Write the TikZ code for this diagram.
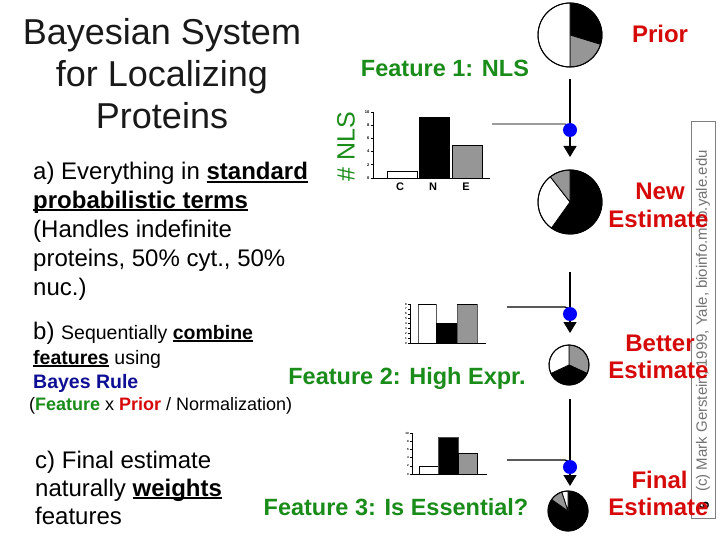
\documentclass[tikz,border=0pt]{standalone}
\usepackage{fontspec}
\setmainfont{Liberation Sans}
\usetikzlibrary{arrows.meta,backgrounds}
\definecolor{fgreen}{RGB}{25,140,25}
\definecolor{fred}{RGB}{215,10,10}
\definecolor{fblue}{RGB}{15,15,150}
\definecolor{dotblue}{RGB}{0,0,255}
\definecolor{bargray}{RGB}{150,150,150}
\newsavebox\myulbox
\newcommand\myul[1]{\sbox\myulbox{#1}\rlap{\rule[-0.13em]{\wd\myulbox}{0.07em}}\usebox\myulbox}
\newcommand\fsz[2]{\fontsize{#1}{#2}\selectfont}
\newcommand\pieslice[5]{\filldraw[fill=#5, draw=black, line width=0.8pt] (#1) -- ++(#3:#2) arc[start angle=#3, end angle=#4, radius=#2] -- cycle;}
\begin{document}
\begin{tikzpicture}[x=1pt,y=-1pt,
  ttl/.style={anchor=base, inner sep=0, text=black!90, font=\fsz{36}{42}},
  txt/.style={anchor=base west, inner sep=0, font=\fsz{24}{28}},
  feat/.style={anchor=base, inner sep=0, text=fgreen, font=\bfseries\fsz{23.5}{28}},
  est/.style={anchor=base, inner sep=0, text=fred, font=\bfseries\fsz{24}{28}},
  bar/.style={draw=black, line width=0.9pt},
  axisline/.style={line width=0.9pt},
  ticklab/.style={anchor=east, inner sep=0.5pt, font=\bfseries\fsz{4}{4}},
  conn/.style={line width=1.3pt},
  bdot/.style={circle, fill=dotblue, inner sep=0, minimum size=14pt},
  arr/.style={conn, -{Triangle[width=13pt,length=11pt]}}
]
\useasboundingbox (0,0) rectangle (720,540);

% ---------- title ----------
\node[ttl] (t1) at (162,45) {Bayesian System};
\node[ttl] (t2) at (162,87) {for Localizing};
\node[ttl] (t3) at (162,129) {Proteins};

% ---------- a) ----------
\node[txt] (a1) at (33,180) {a) Everything in \myul{\textbf{standard}}};
\node[txt] (a2) at (33,208) {\myul{\textbf{probabilistic terms}}};
\node[txt] (a3) at (33,237) {(Handles indefinite};
\node[txt] (a4) at (33,266) {proteins, 50\% cyt., 50\%};
\node[txt] (a5) at (33,295) {nuc.)};

% ---------- b) ----------
\node[txt] (b1) at (33,339) {b) \fsz{19.5}{24}Sequentially \myul{\textbf{combine}}};
\node[txt, font=\fsz{19.5}{24}] (b2) at (33,364) {\myul{\textbf{features}} using};
\node[txt, font=\bfseries\fsz{19.5}{24}, text=fblue] (b3) at (33,388) {Bayes Rule};
\node[txt, font=\fsz{18}{22}] (b4) at (29,410) {(\textcolor{fgreen}{\textbf{Feature}} x \textcolor{fred}{\textbf{Prior}} / Normalization)};

% ---------- c) ----------
\node[txt] (c1) at (35,468) {c) Final estimate};
\node[txt] (c2) at (35,496) {naturally \myul{\textbf{weights}}};
\node[txt] (c3) at (35,524) {features};

% ---------- feature labels ----------
\node[feat] (f1) at (445,77) {Feature 1: NLS};
\node[feat] (f2) at (407,384) {Feature 2: High Expr.};
\node[feat] (f3) at (396,515) {Feature 3: Is Essential?};
\node[rotate=90, text=fgreen, font=\fsz{25}{28}, inner sep=0] (nls) at (346,147) {\# NLS};

% ---------- chart 1 ----------
\draw[bar, fill=white] (387,178) rectangle (417,171);
\draw[bar, fill=black] (419,178) rectangle (449,117);
\draw[bar, fill=bargray] (452,178) rectangle (482,145);
\draw[axisline] (373,112) -- (373,178) -- (490,178);
\foreach \v in {0,2,...,10} {
  \draw[line width=0.6pt] (370.5,{178-6.6*\v}) -- (373,{178-6.6*\v});
  \node[ticklab] at (370,{178-6.6*\v}) {\v};
}
\node[anchor=base, inner sep=0, font=\bfseries\fsz{11}{12}] (lc) at (400,191) {C};
\node[anchor=base, inner sep=0, font=\bfseries\fsz{11}{12}] (ln) at (433,191) {N};
\node[anchor=base, inner sep=0, font=\bfseries\fsz{11}{12}] (le) at (466,191) {E};

% ---------- chart 2 ----------
\draw[bar, draw=black!65, fill=white] (418,343) rectangle (436,304);
\draw[bar, fill=black] (436,343) rectangle (457,323);
\draw[bar, draw=black!65, fill=bargray] (457,343) rectangle (477,304);
\draw[black, line width=0.9pt] (418,304) -- (436,304) (457,304) -- (477,304);
\draw[axisline] (410,304) -- (410,343) -- (486,343);
\foreach \v in {0,...,8} {
  \draw[line width=0.5pt] (408,{343-4.875*\v}) -- (410,{343-4.875*\v});
  \node[ticklab, font=\bfseries\fsz{3}{3}] at (407.5,{343-4.875*\v}) {\v};
}

% ---------- chart 3 ----------
\draw[bar, fill=white] (419,474) rectangle (438,466);
\draw[bar, draw=black!70, fill=black] (438,474) rectangle (458,437);
\draw[bar, fill=bargray] (458,474) rectangle (477,453);
\draw[axisline] (412,433) -- (412,474) -- (487,474);
\foreach \v in {0,2,...,10} {
  \draw[line width=0.5pt] (410,{474-4.1*\v}) -- (412,{474-4.1*\v});
  \node[ticklab, font=\bfseries\fsz{3}{3}] at (409.5,{474-4.1*\v}) {\v};
}

% ---------- pies ----------
\coordinate (p0) at (570,35);
\coordinate (p1) at (570,202);
\coordinate (p2) at (569,365);
\coordinate (p3) at (568,511);
\pieslice{p0}{32pt}{90}{-17}{black}
\pieslice{p0}{32pt}{-17}{-90}{bargray}
\pieslice{p0}{32pt}{-90}{-270}{white}
\draw[line width=1pt] (p0) circle[radius=32pt];
\pieslice{p1}{32pt}{90}{-125.5}{black}
\pieslice{p1}{32pt}{-125.5}{-232}{white}
\pieslice{p1}{32pt}{-232}{-270}{bargray}
\draw[line width=1pt] (p1) circle[radius=32pt];
\pieslice{p2}{20pt}{90}{-25}{bargray}
\pieslice{p2}{20pt}{-25}{-155}{black}
\pieslice{p2}{20pt}{-155}{-270}{white}
\draw[line width=1pt] (p2) circle[radius=20pt];
\pieslice{p3}{20pt}{90}{-215}{black}
\pieslice{p3}{20pt}{-215}{-252}{bargray}
\pieslice{p3}{20pt}{-252}{-270}{white}
\draw[line width=1pt] (p3) circle[radius=20pt];

% ---------- dots and connectors ----------
\node[bdot] (dot1) at (570,130) {};
\node[bdot] (dot2) at (570,314) {};
\node[bdot] (dot3) at (570,467) {};
\coordinate (s1) at (570,79);
\coordinate (s2) at (570,272);
\coordinate (s3) at (570,399);
\coordinate (tip1) at (570,157);
\coordinate (tip2) at (570,333);
\coordinate (tip3) at (570,486);
\coordinate (h1) at (492,124);
\coordinate (h2) at (507,307);
\coordinate (h3) at (507,460);
\begin{pgfonlayer}{background}
\fill[white] (0,0) rectangle (720,540);
\draw[conn] (s1) -- (dot1);
\draw[conn] (s2) -- (dot2);
\draw[conn] (s3) -- (dot3);
\draw[conn, draw=black!60, rounded corners=5pt] (h1) -| (dot1.center);
\draw[conn, rounded corners=5pt] (h2) -| (dot2.center);
\draw[conn, rounded corners=5pt] (h3) -| (dot3.center);
\end{pgfonlayer}
\draw[arr] (dot1) -- (tip1);
\draw[arr] (dot2) -- (tip2);
\draw[arr] (dot3) -- (tip3);

% ---------- copyright box ----------
\draw[black!50, line width=0.8pt] (691,121) rectangle (715,518);
\node[rotate=90, inner sep=0, text=black!55, font=\fsz{15}{18}] (copy) at (703,321) {(c) Mark Gerstein, 1999, Yale, bioinfo.mbb.yale.edu};
\node[rotate=90, inner sep=0, text=black, font=\bfseries\fsz{14}{16}] (num) at (704,506) {6};

% ---------- estimate labels ----------
\node[est] (prior) at (660,43) {Prior};
\node[est] (e1a) at (660,200) {New};
\node[est] (e1b) at (658.5,228) {Estimate};
\node[est] (e2a) at (660,351) {Better};
\node[est] (e2b) at (658.5,378) {Estimate};
\node[est] (e3a) at (659.5,488) {Final};
\node[est] (e3b) at (658.5,515) {Estimate};
\end{tikzpicture}
\end{document}
